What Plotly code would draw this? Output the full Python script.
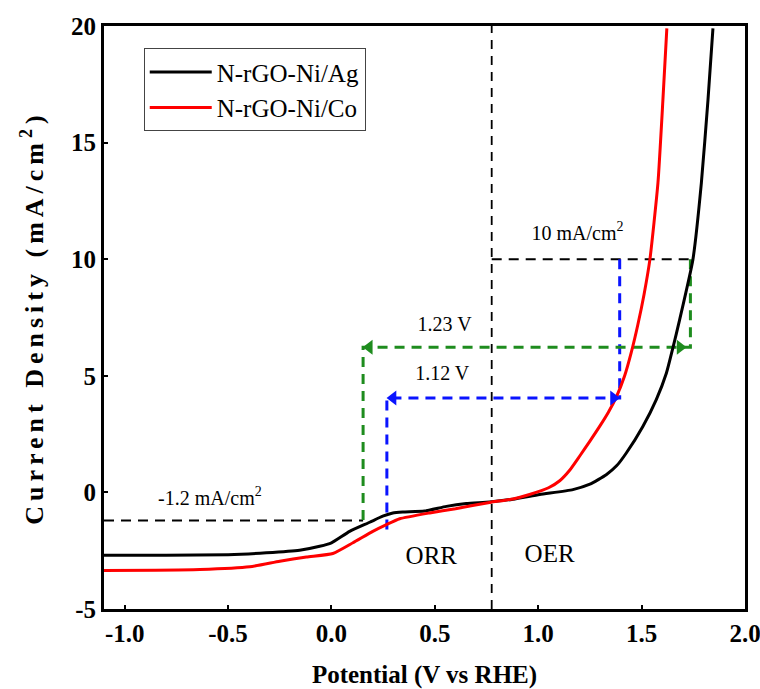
import plotly.graph_objects as go

# ---- data ----
pot_ag = [-1.10, -0.80, -0.50, -0.315, -0.154, -0.057, 0.00, 0.088, 0.185, 0.248, 0.297,
          0.345, 0.45, 0.556, 0.652, 0.765, 0.878, 1.007, 1.168, 1.25, 1.329, 1.38, 1.426,
          1.506, 1.571, 1.620, 1.651, 1.684, 1.748, 1.789, 1.821, 1.845]
cur_ag = [-2.70, -2.69, -2.67, -2.59, -2.48, -2.31, -2.16, -1.67, -1.28, -1.02, -0.88,
          -0.84, -0.80, -0.60, -0.48, -0.41, -0.29, -0.09, 0.12, 0.35, 0.76, 1.15, 1.69,
          2.83, 3.98, 5.12, 6.19, 7.41, 9.98, 13.27, 16.83, 19.9]

pot_co = [-1.10, -0.85, -0.637, -0.395, -0.25, -0.121, 0.007, 0.104, 0.20, 0.266, 0.33,
          0.475, 0.60, 0.765, 0.878, 0.958, 1.05, 1.104, 1.152, 1.2, 1.25, 1.297, 1.34,
          1.378, 1.418, 1.45, 1.482, 1.512, 1.540, 1.579, 1.603, 1.622]
cur_co = [-3.35, -3.34, -3.31, -3.19, -2.95, -2.77, -2.62, -2.16, -1.67, -1.38, -1.13,
          -0.88, -0.70, -0.43, -0.28, -0.09, 0.20, 0.50, 0.95, 1.55, 2.20, 2.83, 3.45,
          4.10, 5.00, 6.00, 7.20, 8.50, 9.98, 13.27, 16.83, 19.9]

series_names = ["N-rGO-Ni/Ag", "N-rGO-Ni/Co"]
series_colors = ["#000000", "#ff0000"]

# guide lines (potential, current)
v_divider = 0.775            # ORR / OER divider
j_oer = 10.0                 # 10 mA/cm2
j_orr = -1.2                 # -1.2 mA/cm2
e_co_oer, e_co_orr = 1.394, 0.268     # 1.12 V gap
j_co_gap = 4.05
e_ag_oer, e_ag_orr = 1.736, 0.153     # 1.23 V gap
j_ag_gap = 6.22
j_co_orr_end = -1.67

# text labels (potential, current, text, size)
label_x = [1.19, 0.547, 0.536, -0.588, 0.483, 1.055]
label_y = [11.05, 7.12, 5.05, -0.31, -2.81, -2.71]
label_text = ["10 mA/cm<sup>2</sup>", "1.23 V", "1.12 V", "-1.2 mA/cm<sup>2</sup>", "ORR", "OER"]
label_size = [20, 20, 20, 20, 25, 25]

x_ticks = [-1.0, -0.5, 0.0, 0.5, 1.0, 1.5, 2.0]
y_ticks = [-5, 0, 5, 10, 15, 20]

FONT = "Liberation Serif"
BLUE = "#0a14ff"
GREEN = "#1e8c1e"

fig = go.Figure()

def dline(xs, ys, color, width, dash):
    fig.add_trace(go.Scatter(x=xs, y=ys, mode="lines", showlegend=False,
                             hoverinfo="skip",
                             line=dict(color=color, width=width, dash=dash)))

# black dashed guides
dline([v_divider, v_divider], [-5, 20], "black", 1.8, "9px,7px")
dline([v_divider, e_ag_oer], [j_oer, j_oer], "black", 2, "10px,7px")
dline([-1.1, e_ag_orr], [j_orr, j_orr], "black", 2, "10px,7px")

# blue (1.12 V)
dline([e_co_oer, e_co_oer, e_co_orr, e_co_orr],
      [j_oer, j_co_gap, j_co_gap, j_co_orr_end], BLUE, 3, "10px,7px")
# green (1.23 V)
dline([e_ag_oer, e_ag_oer, e_ag_orr, e_ag_orr],
      [j_oer, j_ag_gap, j_ag_gap, j_orr], GREEN, 3, "10px,7px")

# data curves
fig.add_trace(go.Scatter(x=pot_ag, y=cur_ag, mode="lines", name=series_names[0],
                         line=dict(color=series_colors[0], width=3, shape="spline", smoothing=0.5)))
fig.add_trace(go.Scatter(x=pot_co, y=cur_co, mode="lines", name=series_names[1],
                         line=dict(color=series_colors[1], width=3, shape="spline", smoothing=0.5)))

# arrowheads
fig.add_trace(go.Scatter(x=[e_co_orr + 0.03], y=[j_co_gap], mode="markers", showlegend=False,
                         hoverinfo="skip", marker=dict(symbol="triangle-left", size=13, color=BLUE)))
fig.add_trace(go.Scatter(x=[e_co_oer - 0.03], y=[j_co_gap], mode="markers", showlegend=False,
                         hoverinfo="skip", marker=dict(symbol="triangle-right", size=13, color=BLUE)))
fig.add_trace(go.Scatter(x=[e_ag_orr + 0.03], y=[j_ag_gap], mode="markers", showlegend=False,
                         hoverinfo="skip", marker=dict(symbol="triangle-left", size=13, color=GREEN)))
fig.add_trace(go.Scatter(x=[e_ag_oer - 0.05], y=[j_ag_gap], mode="markers", showlegend=False,
                         hoverinfo="skip", marker=dict(symbol="triangle-right", size=13, color=GREEN)))

# text labels as a text trace
fig.add_trace(go.Scatter(x=label_x, y=label_y, text=label_text, mode="text",
                         textposition="middle center", showlegend=False, hoverinfo="skip",
                         textfont=dict(family=FONT, size=label_size, color="black")))

fig.update_layout(
    width=760, height=689,
    margin=dict(l=104, r=15, t=26, b=80),
    paper_bgcolor="white", plot_bgcolor="white",
    font=dict(family=FONT, color="black"),
    showlegend=True,
    legend=dict(x=0.062, y=0.962, xanchor="left", yanchor="top",
                bgcolor="white", bordercolor="#444444", borderwidth=1,
                font=dict(family=FONT, size=25, color="black"),
                tracegroupgap=0, itemwidth=62),
    xaxis=dict(range=[-1.1, 2.0], tickvals=x_ticks, automargin=False,
               ticktext=[f"<b>{v:.1f}</b>" for v in x_ticks],
               ticklabeloverflow="allow",
               showgrid=False, zeroline=False, showline=True, linewidth=3,
               linecolor="black", mirror=True, ticks="inside", ticklen=4,
               tickwidth=2, tickcolor="black",
               tickfont=dict(family=FONT, size=25, color="black"),
               title=dict(text="<b>Potential (V vs RHE)</b>", standoff=20,
                          font=dict(family=FONT, size=25, color="black"))),
    yaxis=dict(range=[-5, 20], tickvals=y_ticks, automargin=False,
               ticktext=[f"<b>{v}</b>" for v in y_ticks],
               ticklabeloverflow="allow",
               showgrid=False, zeroline=False, showline=True, linewidth=3,
               linecolor="black", mirror=True, ticks="inside", ticklen=4,
               tickwidth=2, tickcolor="black",
               tickfont=dict(family=FONT, size=25, color="black"),
               title=dict(text='<b><span style="letter-spacing:5px">Current Density (mA/cm<sup>2</sup>)</span></b>',
                          standoff=20,
                          font=dict(family=FONT, size=26, color="black"))),
)

fig.write_html("out.html")
